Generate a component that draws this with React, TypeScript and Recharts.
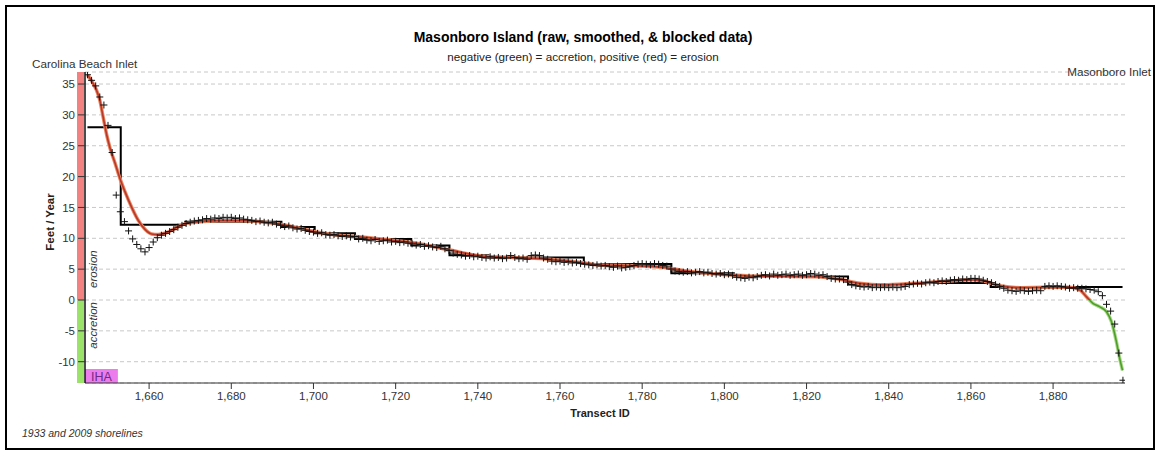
import React from 'react';
import { ComposedChart, Line, Scatter, XAxis, YAxis, CartesianGrid, ReferenceArea } from 'recharts';

const X_DOMAIN: [number, number] = [1644.4, 1897.5];
const Y_DOMAIN: [number, number] = [-13.45, 36.95];
const X_TICKS = [1660, 1680, 1700, 1720, 1740, 1760, 1780, 1800, 1820, 1840, 1860, 1880];
const X_MINOR_TICKS = [1645, 1650, 1655, 1660, 1665, 1670, 1675, 1680, 1685, 1690, 1695, 1700, 1705, 1710, 1715, 1720, 1725, 1730, 1735, 1740, 1745, 1750, 1755, 1760, 1765, 1770, 1775, 1780, 1785, 1790, 1795, 1800, 1805, 1810, 1815, 1820, 1825, 1830, 1835, 1840, 1845, 1850, 1855, 1860, 1865, 1870, 1875, 1880, 1885, 1890, 1895];
const Y_TICKS = [-10, -5, 0, 5, 10, 15, 20, 25, 30, 35];

// raw data: one value per transect, starting at transect 1645
const RAW_FIRST_TRANSECT = 1645;
const rawValues = [
  36.5, 35.6, 34.7, 32.9, 31.6, 28.3, 23.9, 17.0, 14.3, 12.7,
  11.2, 9.9, 9.0, 8.3, 7.8, 8.5, 9.4, 10.1, 10.5, 10.8,
  11.1, 11.4, 11.8, 12.1, 12.4, 12.6, 12.8, 12.9, 13.0, 13.2,
  13.1, 13.3, 13.2, 13.4, 13.3, 13.4, 13.2, 13.3, 13.1, 13.0,
  12.9, 12.7, 12.8, 12.6, 12.5, 12.6, 12.3, 12.1, 11.9, 12.0,
  11.7, 11.5, 11.6, 11.3, 11.1, 11.0, 10.8, 10.9, 10.6, 10.5,
  10.6, 10.4, 10.3, 10.4, 10.2, 10.3, 9.9, 10.0, 9.7, 9.6,
  9.8, 9.5, 9.6, 9.7, 9.4, 9.5, 9.3, 9.4, 9.2, 9.1,
  8.9, 9.0, 8.7, 8.8, 8.6, 8.5, 8.7, 8.3, 8.0, 7.6,
  7.4, 7.3, 7.1, 7.2, 7.0, 7.1, 6.9, 6.8, 7.0, 6.8,
  6.9, 6.7, 6.8, 7.2, 6.9, 6.7, 6.8, 6.6, 7.2, 7.3,
  7.2, 6.8, 6.6, 6.3, 6.2, 6.3, 6.1, 6.2, 6.0, 6.1,
  5.9, 5.8, 5.7, 5.6, 5.7, 5.5, 5.6, 5.4, 5.3, 5.5,
  5.2, 5.3, 5.4, 5.6, 5.8, 5.9, 5.8, 5.7, 5.9, 5.8,
  5.6, 5.5, 5.0, 4.7, 4.6, 4.5, 4.6, 4.4, 4.5, 4.6,
  4.4, 4.5, 4.3, 4.2, 4.3, 4.1, 4.2, 4.0, 3.7, 3.6,
  3.5, 3.7, 3.6, 3.8, 4.0, 4.1, 3.9, 4.2, 4.0, 4.1,
  4.2, 4.0, 4.1, 4.2, 4.0, 4.1, 4.3, 4.2, 4.0, 4.1,
  3.8, 3.5, 3.4, 3.4, 3.3, 2.9, 2.5, 2.3, 2.2, 2.1,
  2.2, 2.0, 2.1, 2.0, 2.1, 2.0, 2.1, 2.0, 2.1, 2.2,
  2.5, 2.6, 2.7, 2.6, 2.8, 2.9, 2.8, 3.0, 3.1, 3.0,
  3.2, 3.3, 3.2, 3.4, 3.3, 3.5, 3.5, 3.4, 3.2, 3.0,
  2.8, 2.5, 2.2, 1.9, 1.6, 1.5, 1.4, 1.6, 1.5, 1.4,
  1.5, 1.6, 1.5, 2.2, 2.3, 2.2, 2.3, 2.2, 2.1, 1.9,
  2.0, 1.9, 1.9, 1.8, 1.7, 1.6, 1.35, 0.7, -0.7, -1.8,
  -3.9, -8.6, -13.0,
];

// smoothed curve, read at selected transects
const smoothedTransects = [
  1645.0, 1646.0, 1647.2, 1648.0, 1648.8, 1649.7, 1650.5, 1651.7, 1652.9, 1654.1,
  1655.7, 1657.3, 1659.0, 1660.6, 1662.2, 1664.2, 1666.3, 1668.3, 1671.1, 1676.8,
  1683.3, 1688.2, 1693.0, 1697.1, 1701.1, 1706.0, 1708.9, 1717.0, 1725.1, 1733.2,
  1741.3, 1749.4, 1757.5, 1765.6, 1769.7, 1777.8, 1785.9, 1790.8, 1798.1, 1806.2,
  1814.3, 1822.4, 1828.1, 1832.9, 1838.6, 1846.3, 1854.4, 1860.6, 1863.8, 1867.0,
  1871.9, 1878.4, 1884.0, 1886.5, 1888.1, 1889.7, 1891.3, 1893.0, 1894.2, 1895.4,
  1896.2, 1896.9,
];
const smoothedValues = [
  36.5, 35.5, 34.0, 32.4, 29.7, 26.7, 24.6, 22.2, 19.7, 17.6,
  15.1, 12.97, 11.45, 10.7, 10.6, 10.9, 11.6, 12.25, 12.6, 12.86,
  12.86, 12.6, 12.15, 11.56, 10.97, 10.5, 10.37, 9.83, 9.2, 8.1,
  7.1, 6.86, 6.6, 6.05, 5.67, 5.56, 5.24, 4.7, 4.2, 3.9,
  3.84, 3.78, 3.35, 2.7, 2.45, 2.7, 3.08, 3.27, 2.97, 2.3,
  2.0, 2.05, 2.05, 1.62, 0.54, -0.54, -1.08, -1.9, -3.5, -6.75,
  -9.45, -11.4,
];

// blocked data: block start transect and block value
const blockedTransects = [1645.0, 1653.1, 1668.8, 1692.2, 1700.3, 1710.1, 1723.8, 1733.1, 1742.6, 1765.8, 1787.1, 1802.3, 1830.1, 1844.3, 1864.8, 1896.9];
const blockedValues = [28.0, 12.2, 12.7, 11.85, 10.8, 9.9, 8.85, 7.25, 6.9, 5.85, 4.35, 3.8, 2.5, 2.75, 2.1, 2.1];

const IHA_RANGE: [number, number] = [1644.4, 1652.4];

const rawData = rawValues.map((v, i) => ({ x: RAW_FIRST_TRANSECT + i, y: v }));
const smoothData = smoothedTransects.map((t, i) => ({ x: t, y: smoothedValues[i] }));
const blockData = blockedTransects.map((t, i) => ({ x: t, y: blockedValues[i] }));

const sMax = Math.max(...smoothedValues);
const sMin = Math.min(...smoothedValues);
const zeroOffset = sMax / (sMax - sMin);

const FONT = '"Liberation Sans", Arial, Helvetica, sans-serif';

const Plus = (props: any) => {
  const { cx, cy } = props;
  if (cx == null || cy == null) return null;
  return (
    <g>
      <line x1={cx - 3.5} x2={cx + 3.5} y1={cy} y2={cy} stroke="#111" strokeWidth={1} />
      <line x1={cx} x2={cx} y1={cy - 3.5} y2={cy + 3.5} stroke="#111" strokeWidth={1} />
    </g>
  );
};

const ErosionBar = (p: any) => {
  const y0 = p.y + p.height;
  return (
    <g>
      <rect x={p.x - 8} y={p.y} width={7} height={p.height} fill="#f28282" />
      <text
        transform={`translate(${p.x + 12}, ${y0 - 12}) rotate(-90)`}
        textAnchor="start"
        fontSize={11.5}
        fontStyle="italic"
        fill="#333"
        fontFamily={FONT}
      >
        erosion
      </text>
    </g>
  );
};

const AccretionBar = (p: any) => (
  <g>
    <rect x={p.x - 8} y={p.y} width={7} height={p.height} fill="#9be26b" />
    <text
      transform={`translate(${p.x + 12}, ${p.y + 2}) rotate(-90)`}
      textAnchor="end"
      fontSize={11.5}
      fontStyle="italic"
      fill="#333"
      fontFamily={FONT}
    >
      accretion
    </text>
  </g>
);

const IhaBox = (p: any) => {
  const h = 14;
  const y = p.y + p.height - h;
  return (
    <g>
      <rect x={p.x} y={y} width={p.width} height={h} fill="#ec7cec" />
      <text x={p.x + p.width / 2} y={y + 11.5} textAnchor="middle" fontSize={12.5} fill="#6e2a86" fontFamily={FONT}>
        IHA
      </text>
    </g>
  );
};

export default function App() {
  return (
    <div style={{ position: 'absolute', left: 0, top: 0, width: 1156, height: 454, background: '#fff', fontFamily: FONT }}>
      <div style={{ position: 'absolute', left: 5, top: 5, width: 1146, height: 441, border: '2px solid #000' }} />
      <div style={{ position: 'absolute', left: 0, top: 0 }}>
        <ComposedChart width={1156} height={454} margin={{ top: 72, right: 31, left: 25, bottom: 41 }}>
          <defs>
            <linearGradient id="smoothHalo" x1="0" y1="0" x2="0" y2="1">
              <stop offset={zeroOffset} stopColor="#e98660" />
              <stop offset={zeroOffset} stopColor="#a6d886" />
            </linearGradient>
            <linearGradient id="smoothCore" x1="0" y1="0" x2="0" y2="1">
              <stop offset={zeroOffset} stopColor="#b8382a" />
              <stop offset={zeroOffset} stopColor="#4f9e2a" />
            </linearGradient>
          </defs>
          <ReferenceArea xAxisId="major" y1={0} y2={Y_DOMAIN[1]} shape={ErosionBar} ifOverflow="visible" />
          <ReferenceArea xAxisId="major" y1={Y_DOMAIN[0]} y2={0} shape={AccretionBar} ifOverflow="visible" />
          <ReferenceArea xAxisId="major" x1={IHA_RANGE[0]} x2={IHA_RANGE[1]} shape={IhaBox} ifOverflow="visible" />
          <CartesianGrid xAxisId="major" vertical={false} stroke="#c8c8c8" strokeDasharray="4 3" />
          <XAxis
            xAxisId="minor"
            type="number"
            dataKey="x"
            domain={X_DOMAIN}
            allowDataOverflow
            ticks={X_MINOR_TICKS}
            interval={0}
            height={0}
            tick={false}
            axisLine={false}
            tickLine={{ stroke: '#555' }}
            tickSize={3}
          />
          <XAxis
            xAxisId="major"
            type="number"
            dataKey="x"
            domain={X_DOMAIN}
            allowDataOverflow
            ticks={X_TICKS}
            interval={0}
            height={30}
            tickSize={6}
            tickMargin={3}
            tick={{ fontSize: 11.5, fill: '#333', fontFamily: FONT }}
            tickFormatter={(v: number) => v.toLocaleString('en-US')}
            axisLine={{ stroke: '#333' }}
            tickLine={{ stroke: '#333' }}
          />
          <YAxis
            type="number"
            domain={Y_DOMAIN}
            allowDataOverflow
            ticks={Y_TICKS}
            interval={0}
            width={60}
            tickSize={7}
            tickMargin={3}
            tick={{ fontSize: 11.5, fill: '#333', fontFamily: FONT }}
            axisLine={{ stroke: '#111', strokeWidth: 1.5 }}
            tickLine={{ stroke: '#333' }}
          />
          <Line xAxisId="major" data={blockData} dataKey="y" type="stepAfter" stroke="#000" strokeWidth={2} dot={false} isAnimationActive={false} />
          <Scatter xAxisId="major" data={rawData} dataKey="y" shape={Plus} isAnimationActive={false} />
          <Line xAxisId="major" data={smoothData} dataKey="y" type="monotone" stroke="url(#smoothHalo)" strokeWidth={3.5} dot={false} isAnimationActive={false} />
          <Line xAxisId="major" data={smoothData} dataKey="y" type="monotone" stroke="url(#smoothCore)" strokeWidth={1.6} dot={false} isAnimationActive={false} />
        </ComposedChart>
      </div>
      <svg width={1156} height={454} style={{ position: 'absolute', left: 0, top: 0, pointerEvents: 'none' }} fontFamily={FONT}>
        <text x={583} y={42} textAnchor="middle" fontSize={14} fontWeight="bold" fill="#000">
          Masonboro Island (raw, smoothed, &amp; blocked data)
        </text>
        <text x={583} y={61} textAnchor="middle" fontSize={11.7} fill="#222">
          negative (green) = accretion, positive (red) = erosion
        </text>
        <text x={32} y={68} fontSize={11.7} fill="#333">Carolina Beach Inlet</text>
        <text x={1151} y={76} textAnchor="end" fontSize={11.7} fill="#333">Masonboro Inlet</text>
        <text transform="translate(54, 222) rotate(-90)" textAnchor="middle" fontSize={11.5} fontWeight="bold" fill="#222">
          Feet / Year
        </text>
        <text x={600} y={417} textAnchor="middle" fontSize={11} fontWeight="bold" fill="#222">Transect ID</text>
        <text x={22} y={437} fontSize={10.5} fontStyle="italic" fill="#333">1933 and 2009 shorelines</text>
      </svg>
    </div>
  );
}
